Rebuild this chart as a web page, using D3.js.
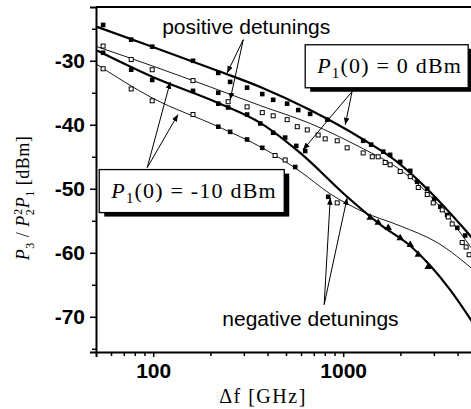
<!DOCTYPE html>
<html>
<head>
<meta charset="utf-8">
<script src="https://cdn.jsdelivr.net/npm/d3@7"></script>
<style>
  body { margin: 0; background: #fff; }
  svg { display: block; }
  .tick text { font-family: "Liberation Sans", Arial, sans-serif; font-weight: bold; font-size: 21px; }
</style>
</head>
<body>
<svg id="chart" width="471" height="409"></svg>
<script>
// theory curves: [detuning f (GHz), P3/P2^2P1 (dBm)]
const posHigh = [[50.7, -24.7], [98.8, -27.8], [220, -31.6], [366, -34.1], [670, -37.7], [1274, -42.3],
  [1923, -45.8], [2870, -50.5], [4285, -56.1], [5000, -58.4]]
const posLow = [[50.7, -27.8], [98.8, -30.8], [200, -34.1], [366, -37.0], [670, -39.8], [1274, -43.75],
  [1923, -46.7], [2870, -51.1], [4285, -57.5], [5000, -60.3]]
const negHigh = [[50.7, -28.4], [98.8, -32.5], [220, -36.6], [366, -39.7], [594, -44.4], [1049, -51.25],
  [1567, -55.6], [2254, -58.9], [2870, -62.0], [3656, -65.8], [5000, -71.7]]
const negLow = [[50.7, -30.6], [98.8, -35.8], [220, -40.3], [375, -43.6], [594, -47.3], [855, -50.8],
  [1274, -53.6], [1995, -55.8], [3126, -58.4], [5000, -63.0]]

// measured points
const filledPts = [[54.5, -24.4], [76.6, -26.7], [98.8, -27.8], [162, -30.0], [220, -31.9], [254, -33.3],
  [312, -34.2], [375, -35.2], [428, -36.1], [507, -36.7], [580, -37.7], [670, -38.3], [824, -39.2],
  [1274, -42.5], [1403, -43.1], [1625, -44.2], [1766, -44.7], [1995, -45.8], [2254, -47.2], [2449, -48.9],
  [2768, -50.0], [3013, -51.6], [3243, -52.8], [3524, -54.1], [3985, -56.1], [4385, -57.3],
  [220, -35.0],
  [54.5, -28.75], [76.6, -31.4], [98.8, -33.0], [162, -34.7], [220, -36.7], [248, -37.3], [312, -38.4],
  [366, -39.8], [428, -41.25], [495, -42.0], [566, -43.3], [631, -44.1],
  [220, -40.3], [254, -41.1], [312, -42.3], [375, -43.6], [559, -46.6], [834, -51.25]]
const trianglePts = [[1387, -54.5], [1528, -55.3], [1726, -56.1], [1995, -57.7], [2254, -58.75],
  [2483, -60.3], [2800, -62.2]]
const openPts = [[54.5, -27.7], [76.6, -29.8], [98.8, -31.4], [162, -33.1], [248, -36.4], [312, -37.2],
  [375, -38.1], [428, -38.6], [507, -39.2], [573, -40.3], [647, -40.8], [738, -41.6], [804, -42.2],
  [930, -42.5], [1049, -43.6], [1274, -44.4], [1422, -45.0], [1528, -45.0], [1663, -45.9], [1766, -46.25],
  [1995, -47.3], [2254, -48.1], [2483, -49.8], [2768, -50.9], [2978, -52.2], [3321, -53.3], [3573, -54.4],
  [3748, -55.5], [4230, -58.4], [4437, -59.1], [4603, -60.3],
  [54.5, -31.25], [76.6, -34.4], [98.8, -36.25], [162, -38.4], [438, -44.8], [495, -45.5], [930, -52.2]]

const xMajor = [100, 1000]
const xMinor = [60, 70, 80, 90, 200, 300, 400, 500, 600, 700, 800, 900, 2000, 3000, 4000]
const yMajor = [-30, -40, -50, -60, -70]
const yMinor = [-25, -35, -45, -55, -65, -75]

// annotation arrows: from -> tips, in data units
const arrows = [
  { from: [298, -26.7], to: [[245, -31.9], [254, -36.1]] },
  { from: [1114, -34.8], to: [[1025, -40.0], [615, -43.9]] },
  { from: [93, -46.7], to: [[123, -33.3], [135, -38.4]] },
  { from: [794, -68.1], to: [[855, -51.4], [1049, -51.4]] }
]
const notes = [
  { text: 'positive detunings', at: [111.5, -25.8] },
  { text: 'negative detunings', at: [231, -71.4] }
]
const boxes = [
  { at: [631, -27.5], w: 163, h: 43, rest: '(0) = 0 dBm' },
  { at: [52, -47.0], w: 185, h: 43, rest: '(0) = -10 dBm' }
]

const svg = d3.select('#chart')
const x = d3.scaleLog().domain([50, 5000]).range([96, 476])
const y = d3.scaleLinear().domain([-75.5, -21.6]).range([352, 7])

svg.append('defs').append('clipPath').attr('id', 'plot')
  .append('rect').attr('x', x(50)).attr('y', y(-21.6))
  .attr('width', x(5000) - x(50)).attr('height', y(-75.5) - y(-21.6))

svg.append('defs').append('marker')
  .attr('id', 'head').attr('viewBox', '0 0 10 10').attr('refX', 10).attr('refY', 5)
  .attr('markerWidth', 7).attr('markerHeight', 7).attr('markerUnits', 'userSpaceOnUse')
  .attr('orient', 'auto')
  .append('path').attr('d', 'M0,1 L10,5 L0,9 Z').attr('fill', '#000')

// axes, minor ticks drawn without their own domain line
const gx = svg.append('g').attr('transform', `translate(0,${y(-75.5)})`)
gx.call(d3.axisBottom(x).tickValues(xMajor).tickSize(5).tickPadding(6).tickFormat(d => String(d)))
gx.append('g').call(d3.axisBottom(x).tickValues(xMinor).tickSize(4).tickFormat('')).select('.domain').remove()
const gy = svg.append('g').attr('transform', `translate(${x(50)},0)`)
gy.call(d3.axisLeft(y).tickValues(yMajor).tickSize(6).tickPadding(5).tickFormat(d => String(d)))
gy.append('g').call(d3.axisLeft(y).tickValues(yMinor).tickSize(4).tickFormat('')).select('.domain').remove()
svg.selectAll('.domain').attr('stroke-width', 2)
svg.selectAll('.tick line').attr('stroke-width', 1.5)

// top frame line
svg.append('line').attr('x1', x(50)).attr('x2', 471).attr('y1', y(-21.6)).attr('y2', y(-21.6))
  .attr('stroke', '#000').attr('stroke-width', 2)

const plot = svg.append('g').attr('clip-path', 'url(#plot)')
const line = d3.line().x(d => x(d[0])).y(d => y(d[1])).curve(d3.curveMonotoneX)
plot.append('path').datum(posHigh).attr('d', line).attr('fill', 'none').attr('stroke', '#000').attr('stroke-width', 2.2)
plot.append('path').datum(negHigh).attr('d', line).attr('fill', 'none').attr('stroke', '#000').attr('stroke-width', 2.2)
plot.append('path').datum(posLow).attr('d', line).attr('fill', 'none').attr('stroke', '#000').attr('stroke-width', 0.9)
plot.append('path').datum(negLow).attr('d', line).attr('fill', 'none').attr('stroke', '#000').attr('stroke-width', 0.9)

plot.selectAll('.filled').data(filledPts).join('rect')
  .attr('x', d => x(d[0]) - 2.3).attr('y', d => y(d[1]) - 2.3)
  .attr('width', 4.6).attr('height', 4.6).attr('fill', '#000')
plot.selectAll('.open').data(openPts).join('rect')
  .attr('x', d => x(d[0]) - 2).attr('y', d => y(d[1]) - 2)
  .attr('width', 4).attr('height', 4).attr('fill', '#fff').attr('stroke', '#000').attr('stroke-width', 1)
plot.selectAll('.tri').data(trianglePts).join('path')
  .attr('transform', d => `translate(${x(d[0])},${y(d[1])})`)
  .attr('d', d3.symbol(d3.symbolTriangle, 24)).attr('fill', '#000')

// arrows
arrows.forEach(a => {
  a.to.forEach(t => {
    svg.append('line')
      .attr('x1', x(a.from[0])).attr('y1', y(a.from[1]))
      .attr('x2', x(t[0])).attr('y2', y(t[1]))
      .attr('stroke', '#000').attr('stroke-width', 1).attr('marker-end', 'url(#head)')
  })
})

notes.forEach(n => {
  svg.append('text').attr('x', x(n.at[0])).attr('y', y(n.at[1]))
    .attr('font-family', '"Liberation Sans", Arial, sans-serif').attr('font-size', 21)
    .text(n.text)
})

// boxed labels with drop shadow
boxes.forEach(b => {
  const bx = x(b.at[0]), by = y(b.at[1])
  svg.append('rect').attr('x', bx + 5).attr('y', by + 4).attr('width', b.w).attr('height', b.h).attr('fill', '#000')
  svg.append('rect').attr('x', bx).attr('y', by).attr('width', b.w).attr('height', b.h)
    .attr('fill', '#fff').attr('stroke', '#000').attr('stroke-width', 1.3)
  const t = svg.append('text').attr('x', bx + 12).attr('y', by + 28)
    .attr('font-family', '"Liberation Serif", "Times New Roman", serif').attr('font-size', 22)
    .attr('letter-spacing', 1.2)
  t.append('tspan').attr('font-style', 'italic').text('P')
  t.append('tspan').attr('font-size', 15).attr('dy', 5).text('1')
  t.append('tspan').attr('dy', -5).text(b.rest)
})

// axis titles
const xt = svg.append('text').attr('x', 263).attr('y', 403).attr('text-anchor', 'middle')
  .attr('font-family', '"Liberation Serif", "Times New Roman", serif').attr('font-size', 20).attr('letter-spacing', 1.5)
xt.text('\u0394f  [GHz]')

const yt = svg.append('text').attr('transform', 'translate(29,198) rotate(-90)').attr('text-anchor', 'middle')
  .attr('font-family', '"Liberation Serif", "Times New Roman", serif').attr('font-size', 18).attr('letter-spacing', 0.5)
yt.append('tspan').attr('font-style', 'italic').text('P')
yt.append('tspan').attr('font-size', 12).attr('dy', 5).text('3')
yt.append('tspan').attr('dy', -5).text(' / ')
yt.append('tspan').attr('font-style', 'italic').text('P')
yt.append('tspan').attr('font-size', 12).attr('dy', 5).text('2')
yt.append('tspan').attr('font-size', 12).attr('dx', -6).attr('dy', -12).text('2')
yt.append('tspan').attr('font-style', 'italic').attr('dy', 7).text('P')
yt.append('tspan').attr('font-size', 12).attr('dy', 5).text('1')
yt.append('tspan').attr('dy', -5).text(' [dBm]')
</script>
</body>
</html>
